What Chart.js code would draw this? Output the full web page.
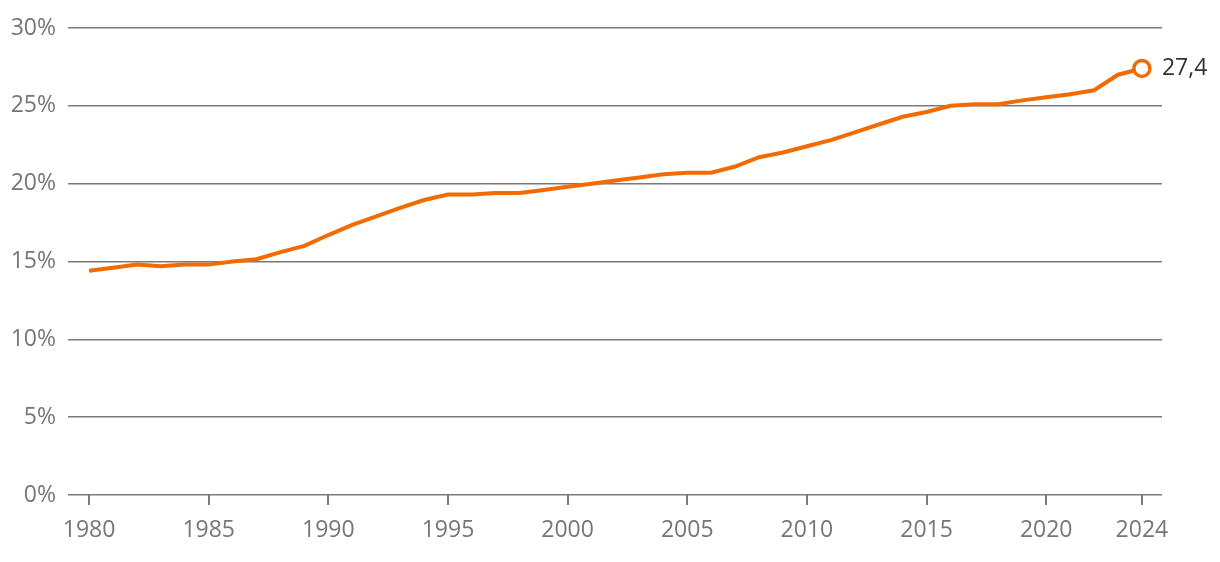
<!DOCTYPE html>
<html>
<head>
<meta charset="utf-8">
<script src="https://cdn.jsdelivr.net/npm/chart.js@4/dist/chart.umd.min.js"></script>
<style>
  html, body { margin: 0; padding: 0; background: #fff; }
  #wrap { width: 1220px; height: 562px; }
</style>
</head>
<body>
<div id="wrap"><canvas id="chart" width="1220" height="562"></canvas></div>
<script>
var years = [1980,1981,1982,1983,1984,1985,1986,1987,1988,1989,1990,1991,1992,1993,1994,1995,1996,1997,1998,1999,2000,2001,2002,2003,2004,2005,2006,2007,2008,2009,2010,2011,2012,2013,2014,2015,2016,2017,2018,2019,2020,2021,2022,2023,2024];
var shares = [14.4,14.6,14.8,14.7,14.8,14.8,15.0,15.15,15.6,16.0,16.7,17.35,17.9,18.45,18.95,19.3,19.3,19.4,19.4,19.6,19.8,20.0,20.2,20.4,20.6,20.7,20.7,21.1,21.7,22.0,22.4,22.8,23.3,23.8,24.3,24.6,25.0,25.1,25.1,25.35,25.55,25.75,26.0,27.0,27.4];
var xTicks = [1980,1985,1990,1995,2000,2005,2010,2015,2020,2024];
var endLabel = '27,4';

var orange = '#f26b00';
var grey = '#7a7a7a';
var tickGrey = '#767676';

var points = years.map(function (y, i) { return { x: y, y: shares[i] }; });
var radii = years.map(function (y, i) { return i === years.length - 1 ? 8 : 0; });

var endLabelPlugin = {
  id: 'endLabel',
  afterDatasetsDraw: function (chart) {
    var meta = chart.getDatasetMeta(0);
    var pt = meta.data[meta.data.length - 1];
    var c = chart.ctx;
    c.save();
    c.font = '23px "Open Sans"';
    c.fillStyle = '#333333';
    c.textAlign = 'left';
    c.textBaseline = 'middle';
    c.fillText(endLabel, pt.x + 20, pt.y);
    c.restore();
  }
};

new Chart(document.getElementById('chart'), {
  type: 'line',
  data: {
    datasets: [{
      data: points,
      borderColor: orange,
      borderWidth: 4,
      pointRadius: radii,
      pointHoverRadius: radii,
      pointBorderWidth: 3.5,
      pointBackgroundColor: '#ffffff',
      pointBorderColor: orange,
      tension: 0,
      fill: false
    }]
  },
  options: {
    responsive: false,
    animation: false,
    events: [],
    layout: { padding: { top: 28, right: 58, left: 0, bottom: 0 } },
    plugins: { legend: { display: false }, tooltip: { enabled: false } },
    scales: {
      x: {
        type: 'linear',
        min: 1979.12,
        max: 2024.84,
        afterBuildTicks: function (axis) {
          axis.ticks = xTicks.map(function (v) { return { value: v }; });
        },
        afterFit: function (axis) { axis.height = 67; },
        border: { display: false },
        grid: {
          drawOnChartArea: false,
          drawTicks: true,
          tickLength: 10,
          color: grey,
          lineWidth: 2
        },
        ticks: {
          color: tickGrey,
          font: { family: '"Open Sans"', size: 23 },
          padding: 12,
          maxRotation: 0,
          autoSkip: false,
          callback: function (v) { return String(v); }
        }
      },
      y: {
        min: 0,
        max: 30,
        afterFit: function (axis) { axis.width = 68; },
        border: { display: false },
        grid: {
          color: grey,
          lineWidth: 1.5,
          drawTicks: false
        },
        ticks: {
          stepSize: 5,
          color: tickGrey,
          font: { family: '"Open Sans"', size: 23 },
          padding: 12,
          callback: function (v) { return v + '%'; }
        }
      }
    }
  },
  plugins: [endLabelPlugin]
});
</script>
</body>
</html>
